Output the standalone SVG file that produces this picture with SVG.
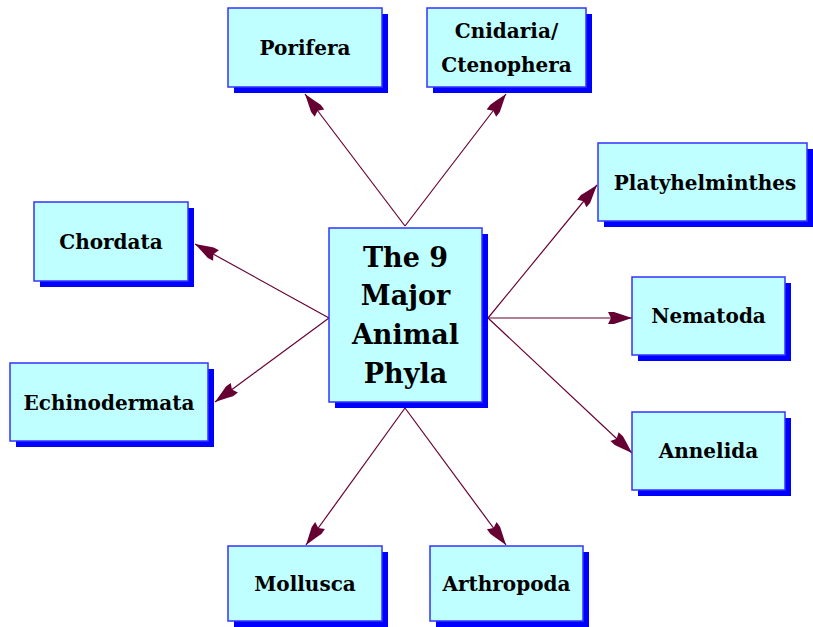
<svg xmlns="http://www.w3.org/2000/svg" width="813" height="627" viewBox="0 0 813 627">
<defs>
<style>
.sh{fill:#0000ff;}
.bx{fill:#c0ffff;stroke:#3333ff;stroke-width:1.5;}
.t{font-family:"DejaVu Serif","Liberation Serif",serif;font-weight:bold;font-size:20px;fill:#000;text-anchor:middle;}
.tc{font-family:"DejaVu Serif","Liberation Serif",serif;font-weight:bold;font-size:27px;fill:#000;text-anchor:middle;}
.c{stroke:#660033;stroke-width:1.2;fill:none;marker-end:url(#ah);}
</style>
<marker id="ah" viewBox="-26 -7 28 14" refX="0" refY="0" markerWidth="28" markerHeight="14" markerUnits="userSpaceOnUse" orient="auto">
<path d="M0,0 L-12,-4 L-18,-6 L-24,-6 L-21,0 L-24,6 L-18,6 L-12,4 Z" fill="#660033"/>
</marker>
</defs>
<rect width="813" height="627" fill="#ffffff"/>
<g id="connectors">
<line class="c" x1="405" y1="226" x2="305" y2="94"/>
<line class="c" x1="405" y1="226" x2="506" y2="94"/>
<line class="c" x1="488" y1="318" x2="597" y2="185"/>
<line class="c" x1="488" y1="318" x2="632" y2="318"/>
<line class="c" x1="488" y1="318" x2="632" y2="453"/>
<line class="c" x1="405" y1="408" x2="506" y2="545"/>
<line class="c" x1="405" y1="408" x2="306" y2="545"/>
<line class="c" x1="329" y1="318" x2="215" y2="402"/>
<line class="c" x1="329" y1="318" x2="195" y2="244"/>
</g>
<g id="center">
<rect class="sh" x="335" y="234" width="153" height="174"/>
<rect class="bx" x="329" y="228" width="153" height="174"/>
<text class="tc" x="405.5" y="267">The 9</text>
<text class="tc" x="405.5" y="305">Major</text>
<text class="tc" x="405.5" y="344">Animal</text>
<text class="tc" x="405.5" y="383">Phyla</text>
</g>
<g id="porifera">
<rect class="sh" x="234" y="14" width="154" height="79"/>
<rect class="bx" x="228" y="8" width="154" height="79"/>
<text class="t" x="305" y="55">Porifera</text>
</g>
<g id="cnidaria">
<rect class="sh" x="433" y="14" width="159" height="79"/>
<rect class="bx" x="427" y="8" width="159" height="79"/>
<text class="t" x="506.5" y="38">Cnidaria/</text>
<text class="t" x="506.5" y="72">Ctenophera</text>
</g>
<g id="platyhelminthes">
<rect class="sh" x="604" y="149" width="209" height="78"/>
<rect class="bx" x="598" y="143" width="209" height="78"/>
<text class="t" x="705" y="190">Platyhelminthes</text>
</g>
<g id="chordata">
<rect class="sh" x="40" y="208" width="154" height="79"/>
<rect class="bx" x="34" y="202" width="154" height="79"/>
<text class="t" x="111" y="249">Chordata</text>
</g>
<g id="echinodermata">
<rect class="sh" x="16" y="369" width="198" height="78"/>
<rect class="bx" x="10" y="363" width="198" height="78"/>
<text class="t" x="109" y="410">Echinodermata</text>
</g>
<g id="nematoda">
<rect class="sh" x="638" y="283" width="153" height="78"/>
<rect class="bx" x="632" y="277" width="153" height="78"/>
<text class="t" x="708.5" y="323">Nematoda</text>
</g>
<g id="annelida">
<rect class="sh" x="638" y="418" width="153" height="78"/>
<rect class="bx" x="632" y="412" width="153" height="78"/>
<text class="t" x="708.5" y="458">Annelida</text>
</g>
<g id="mollusca">
<rect class="sh" x="234" y="552" width="154" height="75"/>
<rect class="bx" x="228" y="546" width="154" height="75"/>
<text class="t" x="305" y="591">Mollusca</text>
</g>
<g id="arthropoda">
<rect class="sh" x="436" y="552" width="153" height="75"/>
<rect class="bx" x="430" y="546" width="153" height="75"/>
<text class="t" x="506.5" y="591">Arthropoda</text>
</g>
</svg>
